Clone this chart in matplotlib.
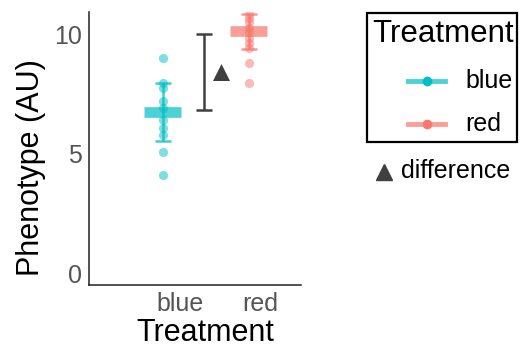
import matplotlib
matplotlib.use("Agg")
import matplotlib.pyplot as plt
from matplotlib.lines import Line2D
from matplotlib.patches import Rectangle
from matplotlib.transforms import ScaledTranslation

plt.rcParams['font.family'] = ['Liberation Sans', 'DejaVu Sans']

# ---- data ----
categories = ["blue", "red"]
colors = ["#00BFC4", "#F8766D"]
blue_values = [9.00, 7.96, 7.76, 7.22, 6.92, 6.42, 6.09, 5.79, 5.10, 4.12]
red_values = [10.85, 10.70, 10.54, 10.27, 10.10, 9.85, 9.64, 9.44, 8.79, 7.96]
group_means = [6.76, 10.13]
group_lo = [5.54, 9.38]
group_hi = [7.96, 10.86]
diff_point = 8.43
diff_lo = 6.84
diff_hi = 10.01
y_ticks = [0, 5, 10]

W, H = 522, 352
fig = plt.figure(figsize=(W / 100, H / 100), dpi=100)
ax = fig.add_axes([89 / W, 1 - 285 / H, (301 - 89) / W, (285 - 12) / H])

xpos = [1, 2]
for xp, vals, col, m, lo, hi in zip(xpos, [blue_values, red_values], colors,
                                     group_means, group_lo, group_hi):
    ax.scatter([xp] * len(vals), vals, s=44, color=col, alpha=0.5,
               linewidths=0, zorder=2)
    ax.errorbar([xp], [m], yerr=[[m - lo], [hi - m]], fmt='none', ecolor=col,
                elinewidth=1.8, capsize=6, capthick=1.8, alpha=0.75, zorder=3)
    ax.hlines(m, xp - 0.215, xp + 0.215, colors=col, lw=7.7, alpha=0.7, zorder=4)

# difference
ax.errorbar([1.48], [(diff_lo + diff_hi) / 2],
            yerr=[[(diff_hi - diff_lo) / 2], [(diff_hi - diff_lo) / 2]],
            fmt='none', ecolor='#404040', elinewidth=1.8, capsize=6, capthick=1.8,
            zorder=3)
ax.scatter([1.68], [diff_point], marker='^', s=150, color='#404040',
           linewidths=0, zorder=4)

ax.set_xlim(0.14, 2.605)
ax.set_ylim(-0.48, 10.94)
ax.set_xticks(xpos)
ax.set_xticklabels(categories)
ax.set_yticks(y_ticks)
ax.tick_params(length=0, labelsize=18, labelcolor='#555555', pad=5)
shift = ScaledTranslation(-6.5 / 100, 0, fig.dpi_scale_trans)
for lab in ax.get_xticklabels():
    lab.set_ha('left')
    lab.set_transform(lab.get_transform() + shift)
for s in ['top', 'right']:
    ax.spines[s].set_visible(False)
for s in ['left', 'bottom']:
    ax.spines[s].set_color('#222222')
    ax.spines[s].set_linewidth(1.1)
ax.set_xlabel("Treatment", fontsize=22)
ax.set_ylabel("Phenotype (AU)", fontsize=22)
ax.xaxis.set_label_coords((205 - 89) / 212, (285 - 318) / 273)
ax.yaxis.set_label_coords((46 - 89) / 212, (285 - 168) / 273)

# ---- legend (figure pixel coordinates) ----
def fx(px):
    return px / W

def fy(py):
    return 1 - py / H

fig.patches.append(Rectangle((fx(367), fy(142)), fx(517) - fx(367), fy(13) - fy(142),
                             transform=fig.transFigure, fill=False,
                             edgecolor='black', linewidth=1.6))
fig.text(fx(443), fy(34), "Treatment", fontsize=22.5, ha='center', va='center')
for yy, lab, col in zip([81, 124], categories, colors):
    fig.lines.append(Line2D([fx(408), fx(445)], [fy(yy), fy(yy)], transform=fig.transFigure,
                            color=col, lw=3.5, alpha=0.7))
    fig.lines.append(Line2D([fx(426.5)], [fy(yy)], transform=fig.transFigure,
                            color=col, marker='o', markersize=6, linestyle='none'))
    fig.text(fx(465), fy(yy), lab, fontsize=18, ha='left', va='center')

fig.lines.append(Line2D([fx(384)], [fy(172.5)], transform=fig.transFigure,
                        color='#404040', marker='^', markersize=11, linestyle='none'))
fig.text(fx(401), fy(171), "difference", fontsize=18, ha='left', va='center')

fig.savefig("out.png", dpi=100)
